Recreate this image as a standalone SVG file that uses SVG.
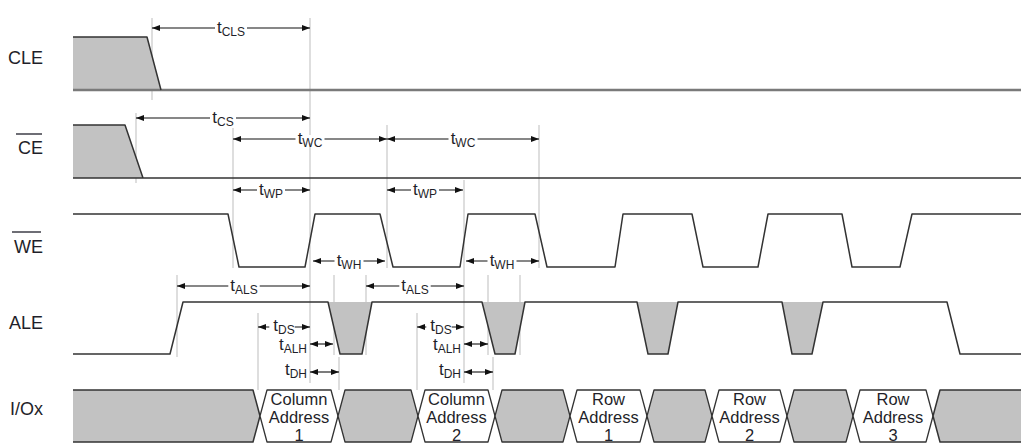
<svg xmlns="http://www.w3.org/2000/svg" width="1023" height="444" viewBox="0 0 1023 444">
<defs>
<marker id="ah" viewBox="0 0 8 6" refX="8" refY="3" markerWidth="8" markerHeight="6" markerUnits="userSpaceOnUse" orient="auto-start-reverse">
<path d="M0,0 L8,3 L0,6 Z" fill="#111"/>
</marker>
<style>
.sig{font-family:"Liberation Sans",Arial,sans-serif;font-size:18px;fill:#1f1f2a}
.tl{font-family:"Liberation Sans",Arial,sans-serif;font-size:17px;fill:#1f1f2a}
.sub{font-size:12px}
.bg{fill:#fff;stroke:none}
.hx{font-family:"Liberation Sans",Arial,sans-serif;font-size:16.5px;fill:#1f1f2a;text-anchor:middle}
.wave{fill:none;stroke:#333;stroke-width:1.5;stroke-linejoin:round}
.cle{fill:none;stroke:#7a7a7a;stroke-width:2.5}
.fill{fill:#c2c2c2;stroke:none}
.bus{fill:#c2c2c2;stroke:#333;stroke-width:1.3;stroke-linejoin:round}
.busw{fill:#fff;stroke:#333;stroke-width:1.3;stroke-linejoin:round}
.guide{stroke:#bdbdbd;stroke-width:1;fill:none}
.arr{stroke:#111;stroke-width:1.1;fill:none;marker-start:url(#ah);marker-end:url(#ah)}
.ovl{stroke:#1f1f2a;stroke-width:1.3}
</style>
</defs>
<rect width="1023" height="444" fill="#fff"/>

<g id="guides">
<line class="guide" x1="152" y1="18" x2="152" y2="100"/>
<line class="guide" x1="310" y1="18" x2="310" y2="383"/>
<line class="guide" x1="136" y1="113" x2="136" y2="183"/>
<line class="guide" x1="233" y1="128" x2="233" y2="268"/>
<line class="guide" x1="387" y1="125" x2="387" y2="268"/>
<line class="guide" x1="539" y1="125" x2="539" y2="268"/>
<line class="guide" x1="464" y1="180" x2="464" y2="383"/>
<line class="guide" x1="177" y1="275" x2="177" y2="357"/>
<line class="guide" x1="334" y1="275" x2="334" y2="355"/>
<line class="guide" x1="366" y1="275" x2="366" y2="355"/>
<line class="guide" x1="488" y1="275" x2="488" y2="355"/>
<line class="guide" x1="520" y1="275" x2="520" y2="355"/>
<line class="guide" x1="258" y1="313" x2="258" y2="390"/>
<line class="guide" x1="339" y1="357" x2="339" y2="390"/>
<line class="guide" x1="417" y1="313" x2="417" y2="390"/>
<line class="guide" x1="493" y1="357" x2="493" y2="390"/>
</g>

<g id="CLE">
<text class="sig" x="43" y="64" text-anchor="end">CLE</text>
<polygon class="fill" points="73,37 147,37 161,90 73,90"/>
<path class="cle" d="M73,90 H1021"/>
<path class="wave" d="M73,37 H147 L161,90"/>
</g>

<g id="CE">
<text class="sig" x="43" y="154" text-anchor="end">CE</text>
<line class="ovl" x1="16" y1="134" x2="42" y2="134"/>
<polygon class="fill" points="73,125 125,125 143,178 73,178"/>
<path class="wave" d="M73,125 H125 L143,178 M73,178 H1021"/>
</g>

<g id="WE">
<text class="sig" x="43" y="253" text-anchor="end">WE</text>
<line class="ovl" x1="12" y1="232" x2="41" y2="232"/>
<path class="wave" d="M73,214 H228 L239,267 H305 L315,214 H380 L393,267 H460 L468,214 H535 L547,267 H615 L623,214 H692 L703,267 H758 L768,214 H842 L852,267 H900 L912,214 H1021"/>
</g>

<g id="ALE">
<text class="sig" x="43" y="329" text-anchor="end">ALE</text>
<polygon class="fill" points="328,302 340,354 362,354 372,302"/>
<polygon class="fill" points="482,302 495,354 515,354 525,302"/>
<polygon class="fill" points="637,302 648,354 668,354 678,302"/>
<polygon class="fill" points="782,302 792,354 812,354 823,302"/>
<path class="wave" d="M73,354 H170 L183,302 H328 L340,354 H362 L372,302 H482 L495,354 H515 L525,302 H637 L648,354 H668 L678,302 H782 L792,354 H812 L823,302 H947 L960,354 H1021"/>
</g>

<g id="IO">
<text class="sig" x="43" y="415" text-anchor="end">I/Ox</text>
<polygon class="fill" points="73,390 253,390 260,416 253,442 73,442"/>
<path class="wave" d="M73,390 H253 L260,416 L253,442 H73"/>
<polygon class="busw" points="260,416 267,390 331,390 338,416 331,442 267,442"/>
<polygon class="bus" points="338,416 345,390 411,390 418,416 411,442 345,442"/>
<polygon class="busw" points="418,416 425,390 488,390 495,416 488,442 425,442"/>
<polygon class="bus" points="495,416 502,390 563,390 570,416 563,442 502,442"/>
<polygon class="busw" points="570,416 577,390 640,390 647,416 640,442 577,442"/>
<polygon class="bus" points="647,416 654,390 705,390 712,416 705,442 654,442"/>
<polygon class="busw" points="712,416 719,390 780,390 787,416 780,442 719,442"/>
<polygon class="bus" points="787,416 794,390 846,390 853,416 846,442 794,442"/>
<polygon class="busw" points="853,416 860,390 926,390 933,416 926,442 860,442"/>
<polygon class="fill" points="933,416 940,390 1021,390 1021,442 940,442"/>
<path class="wave" d="M1021,390 H940 L933,416 L940,442 H1021"/>
<text class="hx" x="299" y="405">Column</text>
<text class="hx" x="299" y="423">Address</text>
<text class="hx" x="299" y="441">1</text>
<text class="hx" x="456.5" y="405">Column</text>
<text class="hx" x="456.5" y="423">Address</text>
<text class="hx" x="456.5" y="441">2</text>
<text class="hx" x="608.5" y="405">Row</text>
<text class="hx" x="608.5" y="423">Address</text>
<text class="hx" x="608.5" y="441">1</text>
<text class="hx" x="749.5" y="405">Row</text>
<text class="hx" x="749.5" y="423">Address</text>
<text class="hx" x="749.5" y="441">2</text>
<text class="hx" x="893" y="405">Row</text>
<text class="hx" x="893" y="423">Address</text>
<text class="hx" x="893" y="441">3</text>
</g>

<g id="connectors">
<line class="arr" x1="152" y1="28" x2="310" y2="28"/>
<line class="arr" x1="136" y1="118" x2="310" y2="118"/>
<line class="arr" x1="233" y1="139" x2="387" y2="139"/>
<line class="arr" x1="387" y1="139" x2="539" y2="139"/>
<line class="arr" x1="233" y1="190" x2="310" y2="190"/>
<line class="arr" x1="387" y1="190" x2="463" y2="190"/>
<line class="arr" x1="313" y1="261" x2="385" y2="261"/>
<line class="arr" x1="466" y1="261" x2="539" y2="261"/>
<line class="arr" x1="177" y1="286" x2="310" y2="286"/>
<line class="arr" x1="366" y1="286" x2="464" y2="286"/>
<line class="arr" x1="258" y1="327" x2="310" y2="327"/>
<line class="arr" x1="417" y1="327" x2="464" y2="327"/>
<line class="arr" x1="310" y1="344" x2="333" y2="344"/>
<line class="arr" x1="464" y1="344" x2="488" y2="344"/>
<line class="arr" x1="310" y1="372" x2="339" y2="372"/>
<line class="arr" x1="464" y1="372" x2="493" y2="372"/>
</g>

<g id="labels">
<rect class="bg" x="215" y="24" width="32" height="8"/>
<rect class="bg" x="210" y="114" width="26" height="8"/>
<rect class="bg" x="295.5" y="135" width="29" height="8"/>
<rect class="bg" x="448.5" y="135" width="29" height="8"/>
<rect class="bg" x="257" y="186" width="28" height="8"/>
<rect class="bg" x="411" y="186" width="28" height="8"/>
<rect class="bg" x="334.5" y="257" width="29" height="8"/>
<rect class="bg" x="487.5" y="257" width="29" height="8"/>
<rect class="bg" x="228.3" y="282" width="31.4" height="8"/>
<rect class="bg" x="399.3" y="282" width="31.4" height="8"/>
<rect class="bg" x="269.3" y="323" width="25.4" height="8"/>
<rect class="bg" x="426.3" y="323" width="25.4" height="8"/>
<text class="tl" x="231" y="33" text-anchor="middle">t<tspan class="sub" dy="3">CLS</tspan></text>
<text class="tl" x="223" y="123" text-anchor="middle">t<tspan class="sub" dy="3">CS</tspan></text>
<text class="tl" x="310" y="144" text-anchor="middle">t<tspan class="sub" dy="3">WC</tspan></text>
<text class="tl" x="463" y="144" text-anchor="middle">t<tspan class="sub" dy="3">WC</tspan></text>
<text class="tl" x="271" y="195" text-anchor="middle">t<tspan class="sub" dy="3">WP</tspan></text>
<text class="tl" x="425" y="195" text-anchor="middle">t<tspan class="sub" dy="3">WP</tspan></text>
<text class="tl" x="349" y="266" text-anchor="middle">t<tspan class="sub" dy="3">WH</tspan></text>
<text class="tl" x="502" y="266" text-anchor="middle">t<tspan class="sub" dy="3">WH</tspan></text>
<text class="tl" x="244" y="291" text-anchor="middle">t<tspan class="sub" dy="3">ALS</tspan></text>
<text class="tl" x="415" y="291" text-anchor="middle">t<tspan class="sub" dy="3">ALS</tspan></text>
<text class="tl" x="284" y="331" text-anchor="middle">t<tspan class="sub" dy="3">DS</tspan></text>
<text class="tl" x="441" y="331" text-anchor="middle">t<tspan class="sub" dy="3">DS</tspan></text>
<text class="tl" x="307" y="350" text-anchor="end">t<tspan class="sub" dy="3">ALH</tspan></text>
<text class="tl" x="461" y="350" text-anchor="end">t<tspan class="sub" dy="3">ALH</tspan></text>
<text class="tl" x="307" y="375" text-anchor="end">t<tspan class="sub" dy="3">DH</tspan></text>
<text class="tl" x="461" y="375" text-anchor="end">t<tspan class="sub" dy="3">DH</tspan></text>
</g>
</svg>
